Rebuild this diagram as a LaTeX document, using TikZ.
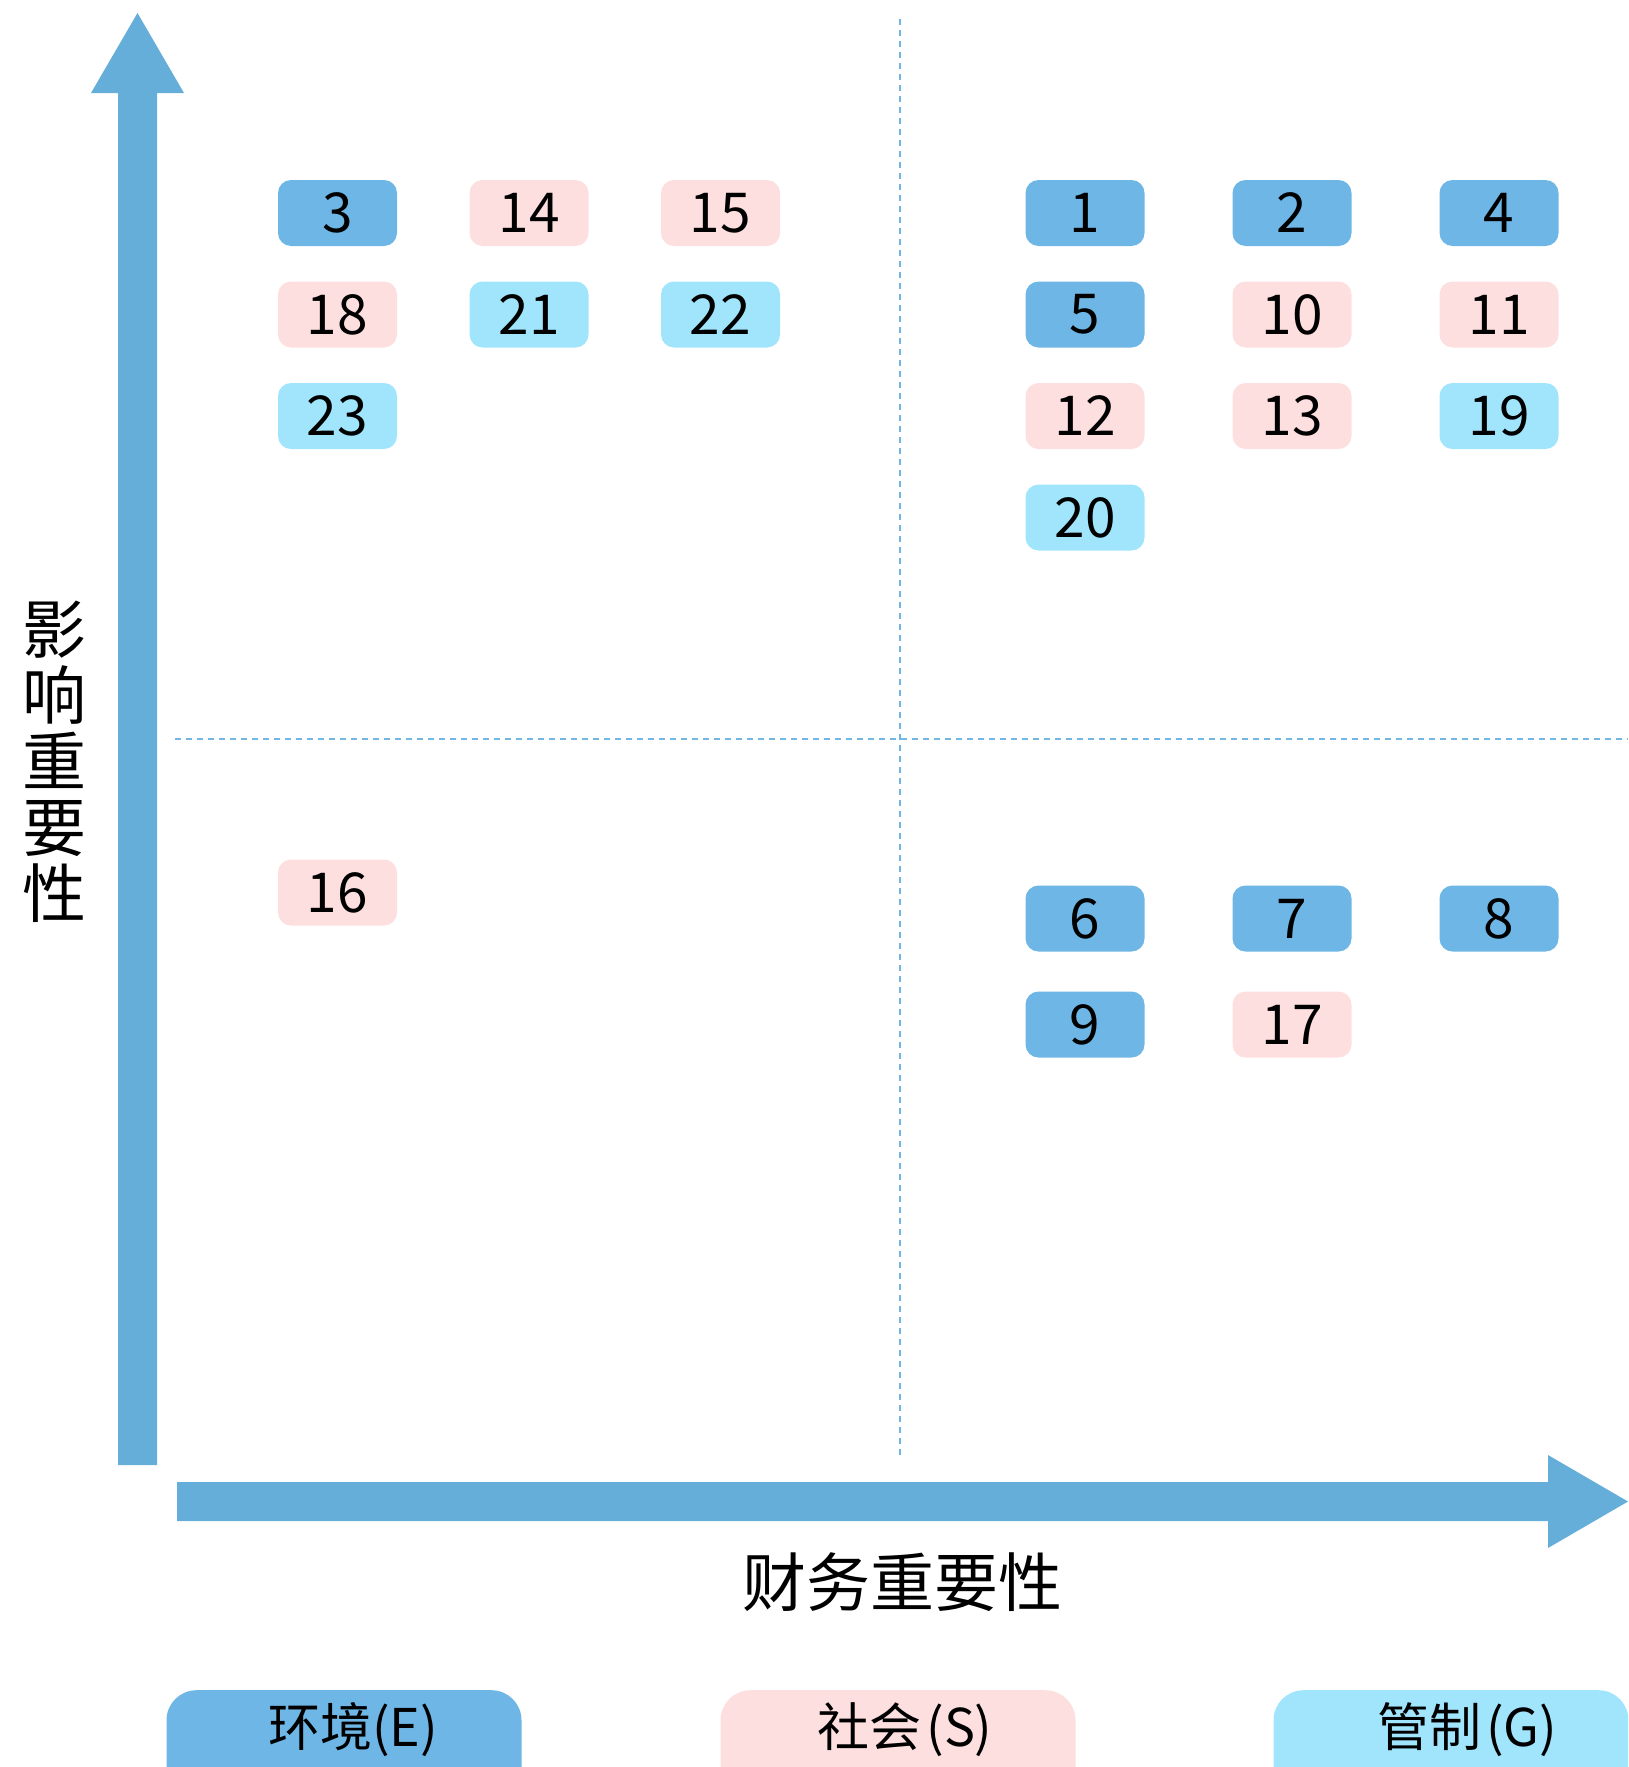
\documentclass[tikz,border=0pt]{standalone}
\usepackage{fontspec}
\newfontfamily\cjk{Noto Sans CJK SC}
\definecolor{axisblue}{HTML}{66AEDA}
\definecolor{dashblue}{HTML}{72B6E4}
\definecolor{ecol}{HTML}{6EB6E5}
\definecolor{scol}{HTML}{FDDFDF}
\definecolor{gcol}{HTML}{A1E5FD}
\tikzset{
  itembox/.style={rounded corners=13pt, minimum width=119pt, minimum height=66pt, inner sep=0pt, font=\cjk\fontsize{55}{60}\selectfont, text=black},
  ebox/.style={itembox, fill=ecol},
  sbox/.style={itembox, fill=scol},
  gbox/.style={itembox, fill=gcol},
  legbox/.style={rounded corners=30pt, fill=#1, minimum width=355pt, minimum height=140pt, inner sep=0pt, anchor=north},
  legtext/.style={font=\cjk\fontsize{52}{58}\selectfont, text=black, inner sep=0pt},
  axislabel/.style={font=\cjk\fontsize{64}{66}\selectfont, text=black, inner sep=0pt},
  quadline/.style={dashblue, line width=1.6pt, dash pattern=on 6pt off 5pt}
}
\begin{document}
\begin{tikzpicture}[x=1pt,y=-1pt]
\useasboundingbox (0,0) rectangle (1628,1767);
\clip (0,0) rectangle (1628,1767);
% quadrant lines
\coordinate (vtop) at (900,19);
\coordinate (vbot) at (900,1459);
\coordinate (hleft) at (175,739);
\coordinate (hright) at (1628,739);
\draw[quadline] (vtop) -- (vbot);
\draw[quadline] (hleft) -- (hright);
% axes
\fill[axisblue] (118,1465) -- (118,93) -- (91,93) -- (137.5,13) -- (184,93) -- (157,93) -- (157,1465) -- cycle;
\fill[axisblue] (177,1482) -- (1548,1482) -- (1548,1455) -- (1628,1501.5) -- (1548,1548) -- (1548,1521) -- (177,1521) -- cycle;
% axis labels
\node[axislabel, align=center] (ylab) at (55,762) {影\\[0pt]响\\[0pt]重\\[0pt]要\\[0pt]性};
\node[axislabel] (xlab) at (902,1582) {财务重要性};
% upper left
\node[ebox] (n3) at (337.5,213) {3};
\node[sbox] (n14) at (529,213) {14};
\node[sbox] (n15) at (720.5,213) {15};
\node[sbox] (n18) at (337.5,314.5) {18};
\node[gbox] (n21) at (529,314.5) {21};
\node[gbox] (n22) at (720.5,314.5) {22};
\node[gbox] (n23) at (337.5,416) {23};
% upper right
\node[ebox] (n1) at (1085,213) {1};
\node[ebox] (n2) at (1292,213) {2};
\node[ebox] (n4) at (1499,213) {4};
\node[ebox] (n5) at (1085,314.5) {5};
\node[sbox] (n10) at (1292,314.5) {10};
\node[sbox] (n11) at (1499,314.5) {11};
\node[sbox] (n12) at (1085,416) {12};
\node[sbox] (n13) at (1292,416) {13};
\node[gbox] (n19) at (1499,416) {19};
\node[gbox] (n20) at (1085,517.5) {20};
% lower left
\node[sbox] (n16) at (337.5,892.5) {16};
% lower right
\node[ebox] (n6) at (1085,918.5) {6};
\node[ebox] (n7) at (1292,918.5) {7};
\node[ebox] (n8) at (1499,918.5) {8};
\node[ebox] (n9) at (1085,1024.5) {9};
\node[sbox] (n17) at (1292,1024.5) {17};
% legend
\node[legbox=ecol] (le) at (344,1690) {};
\node[legbox=scol] (ls) at (898,1690) {};
\node[legbox=gcol] (lg) at (1451,1690) {};
\node[legtext] (lte) at (353,1730) {环境(E)};
\node[legtext] (lts) at (905,1730) {社会\hspace{5pt}(S)};
\node[legtext] (ltg) at (1467,1730) {管制\hspace{5pt}(G)};
\end{tikzpicture}
\end{document}
